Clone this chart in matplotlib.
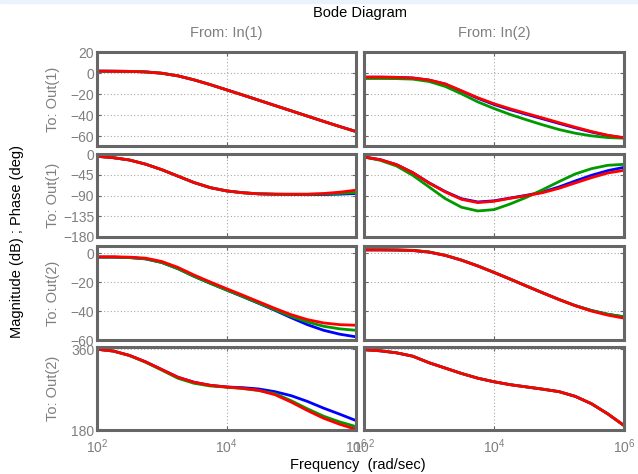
import numpy as np
import matplotlib
matplotlib.use("Agg")
import matplotlib.pyplot as plt
from matplotlib.ticker import NullLocator
from matplotlib.patches import Rectangle

plt.rcParams['font.family'] = ['Liberation Sans', 'DejaVu Sans']

# frequency grid (log10 of rad/sec), quarter decades
freq_exp = [2.0, 2.25, 2.5, 2.75, 3.0, 3.25, 3.5, 3.75, 4.0,
            4.25, 4.5, 4.75, 5.0, 5.25, 5.5, 5.75, 6.0]

# Out(1) <- In(1), magnitude (dB)
mag11_blue = [1.9, 1.8, 1.65, 1.15, -0.1, -2.6, -6.4, -10.9, -15.8,
              -20.7, -25.7, -30.7, -35.7, -40.7, -45.7, -50.6, -55.3]
mag11_green = [1.9, 1.8, 1.65, 1.15, -0.1, -2.6, -6.4, -10.9, -15.8,
               -20.7, -25.7, -30.7, -35.7, -40.7, -45.7, -50.6, -55.3]
mag11_red = [1.9, 1.8, 1.65, 1.15, -0.1, -2.6, -6.4, -10.9, -15.8,
             -20.7, -25.7, -30.7, -35.7, -40.7, -45.7, -50.6, -55.3]

# Out(1) <- In(1), phase (deg)
ph11_blue = [-5, -8, -13, -22, -34, -48, -62, -73, -80,
             -84, -86.4, -87.3, -87.8, -88.2, -88.0, -87.1, -85.7]
ph11_green = [-5, -8, -13, -22, -34, -48, -62, -73, -80,
              -84, -86.4, -87.2, -87.4, -87.6, -87.0, -85.5, -83.5]
ph11_red = [-5, -8, -13, -22, -34, -48, -62, -73, -80,
            -84, -86.4, -87.1, -87.1, -87.0, -85.7, -82.8, -78.4]

# Out(1) <- In(2), magnitude (dB)
mag12_blue = [-3.8, -3.8, -4.0, -4.6, -6.6, -10.4, -17.0, -23.8, -29.7,
              -34.6, -39.0, -43.3, -47.6, -51.8, -55.8, -59.1, -61.3]
mag12_green = [-5.1, -5.1, -5.2, -5.7, -7.9, -12.6, -19.6, -27.2, -33.5,
               -39.2, -44.2, -49.0, -53.4, -56.9, -59.4, -61.0, -61.6]
mag12_red = [-3.8, -3.8, -4.0, -4.6, -6.5, -10.2, -16.7, -23.3, -29.0,
             -33.8, -38.2, -42.5, -46.9, -51.2, -55.3, -58.8, -61.2]

# Out(1) <- In(2), phase (deg)
ph12_blue = [-6.5, -12.3, -23.1, -40.4, -62.5, -81.5, -97.0, -104.0, -101.5,
             -95.5, -89.5, -82.5, -71.5, -58.5, -46.2, -36.1, -28.9]
ph12_green = [-6.5, -13.7, -26.0, -46.2, -71.5, -96.7, -115.5, -123.5, -120.6,
              -108.3, -93.9, -77.3, -59.9, -43.3, -31.8, -24.5, -22.4]
ph12_red = [-6.5, -12.3, -23.1, -40.4, -62.8, -82.3, -98.2, -105.4, -102.5,
            -96.0, -90.2, -83.8, -74.4, -62.8, -51.3, -41.2, -35.4]

# Out(2) <- In(1), magnitude (dB)
mag21_blue = [-2.7, -2.7, -3.0, -3.9, -6.4, -10.7, -16.0, -20.8, -25.4,
              -30.0, -34.7, -39.5, -44.6, -49.4, -53.3, -56.0, -57.8]
mag21_green = [-2.7, -2.7, -3.0, -3.9, -6.4, -10.7, -16.0, -20.8, -25.4,
               -29.9, -34.5, -39.1, -43.7, -47.5, -50.5, -52.3, -53.3]
mag21_red = [-2.5, -2.5, -2.7, -3.4, -5.7, -9.8, -15.1, -19.9, -24.5,
             -29.0, -33.6, -38.2, -42.5, -45.9, -48.2, -49.4, -49.8]

# Out(2) <- In(1), phase (deg)
ph21_blue = [360, 356, 346.3, 332, 314.8, 297.6, 286.4, 279.6, 275.9,
             274.4, 271.4, 265.4, 256.4, 243.7, 228.7, 215.2, 201.0]
ph21_green = [360, 356, 346, 331, 313.5, 295.3, 284.1, 278.1, 275.5,
              272.5, 268.0, 260.9, 245.2, 227.2, 210.7, 198.0, 187.5]
ph21_red = [360, 356, 346.3, 332, 314.8, 297.6, 286.4, 279.6, 275.9,
            272.9, 268.4, 258.6, 242.2, 223.4, 206.2, 192.7, 181.5]

# Out(2) <- In(2), magnitude (dB)
mag22_blue = [2.3, 2.3, 2.2, 1.9, 0.8, -1.5, -4.8, -8.8, -13.3,
              -17.9, -22.7, -27.4, -32.0, -36.2, -39.6, -42.2, -44.0]
mag22_green = [2.4, 2.4, 2.3, 2.0, 0.9, -1.4, -4.7, -8.7, -13.2,
               -17.9, -22.7, -27.4, -32.0, -36.2, -39.6, -42.2, -44.0]
mag22_red = [2.3, 2.3, 2.2, 1.9, 0.8, -1.5, -4.8, -8.8, -13.3,
             -17.9, -22.7, -27.4, -32.0, -36.3, -40.0, -42.8, -44.9]

# Out(2) <- In(2), phase (deg)
ph22_blue = [359, 356.5, 352, 344.5, 330, 318, 306, 295.5, 287.5,
             281, 276, 271, 265.5, 255, 238.5, 216, 190]
ph22_green = [359, 356.5, 352, 344.5, 330, 318, 306, 295.5, 287.5,
              281, 276, 271, 265.5, 255, 238.5, 216, 190]
ph22_red = [359, 356.5, 352, 344.5, 330, 318, 306, 295.5, 287.5,
            281, 276, 271, 265.5, 255, 238.5, 216, 190]

row_labels = ["To: Out(1)", "To: Out(1)", "To: Out(2)", "To: Out(2)"]
col_labels = ["From: In(1)", "From: In(2)"]
row_ylims = [(-69, 20), (-180, 0), (-60, 5), (180, 365)]
row_yticks = [[20, 0, -20, -40, -60], [0, -45, -90, -135, -180],
              [0, -20, -40, -60], [180, 360]]

panels = [
    [(mag11_blue, mag11_green, mag11_red), (mag12_blue, mag12_green, mag12_red)],
    [(ph11_blue, ph11_green, ph11_red), (ph12_blue, ph12_green, ph12_red)],
    [(mag21_blue, mag21_green, mag21_red), (mag22_blue, mag22_green, mag22_red)],
    [(ph21_blue, ph21_green, ph21_red), (ph22_blue, ph22_green, ph22_red)],
]

W, H = 638, 474
fig = plt.figure(figsize=(W / 100, H / 100), dpi=100)
fig.patches.append(Rectangle((0, 1 - 3 / H), 1, 3 / H, transform=fig.transFigure,
                             color='#eaf2fb', zorder=0))

freq = 10 ** np.array(freq_exp)
col_x = [(97, 356), (364, 624)]
row_y = [(52, 146), (154, 237), (246, 340), (347, 430)]
line_colors = ['#0000ff', '#009a00', '#ff0000']
frame = '#666666'
label_gray = '#7f7f7f'

for r in range(4):
    for c in range(2):
        x0, x1 = col_x[c]
        y0, y1 = row_y[r]
        ax = fig.add_axes([x0 / W, 1 - y1 / H, (x1 - x0) / W, (y1 - y0) / H])
        for vals, col in zip(panels[r][c], line_colors):
            ax.plot(freq, vals, color=col, lw=2.0, solid_capstyle='butt')
        ax.set_xscale('log')
        ax.set_xlim(1e2, 1e6)
        ax.set_xticks([1e2, 1e4, 1e6])
        ax.xaxis.set_minor_locator(NullLocator())
        ax.set_ylim(*row_ylims[r])
        ax.set_yticks(row_yticks[r])
        ax.grid(True, linestyle=(0, (1, 2)), color='#aaaaaa', linewidth=0.8)
        for sp in ax.spines.values():
            sp.set_color(frame)
            sp.set_linewidth(2.2)
        ax.tick_params(direction='in', length=3, width=0.8, colors=frame,
                       labelcolor=label_gray, labelsize=10, top=True, right=True,
                       labelbottom=(r == 3), labelleft=(c == 0))
        ax.tick_params(axis='y', pad=2)
        ax.tick_params(axis='x', pad=5)
        if c == 0:
            fig.text(53 / W, 1 - (y0 + y1) / 2 / H, row_labels[r], rotation=90,
                     ha='center', va='center', color=label_gray, fontsize=10.5)

for c in range(2):
    xc = sum(col_x[c]) / 2
    fig.text(xc / W, 1 - 33 / H, col_labels[c], ha='center', va='center',
             color=label_gray, fontsize=10.5)

fig.text(360 / W, 1 - 13 / H, "Bode Diagram", ha='center', va='center',
         color='black', fontsize=10.5)
fig.text(17 / W, 1 - 241 / H, "Magnitude (dB) ; Phase (deg)", rotation=90,
         ha='center', va='center', color='black', fontsize=10.5)
fig.text(358 / W, 1 - 465 / H, "Frequency  (rad/sec)", ha='center', va='center',
         color='black', fontsize=10.5)

fig.savefig("out.png", dpi=100)
